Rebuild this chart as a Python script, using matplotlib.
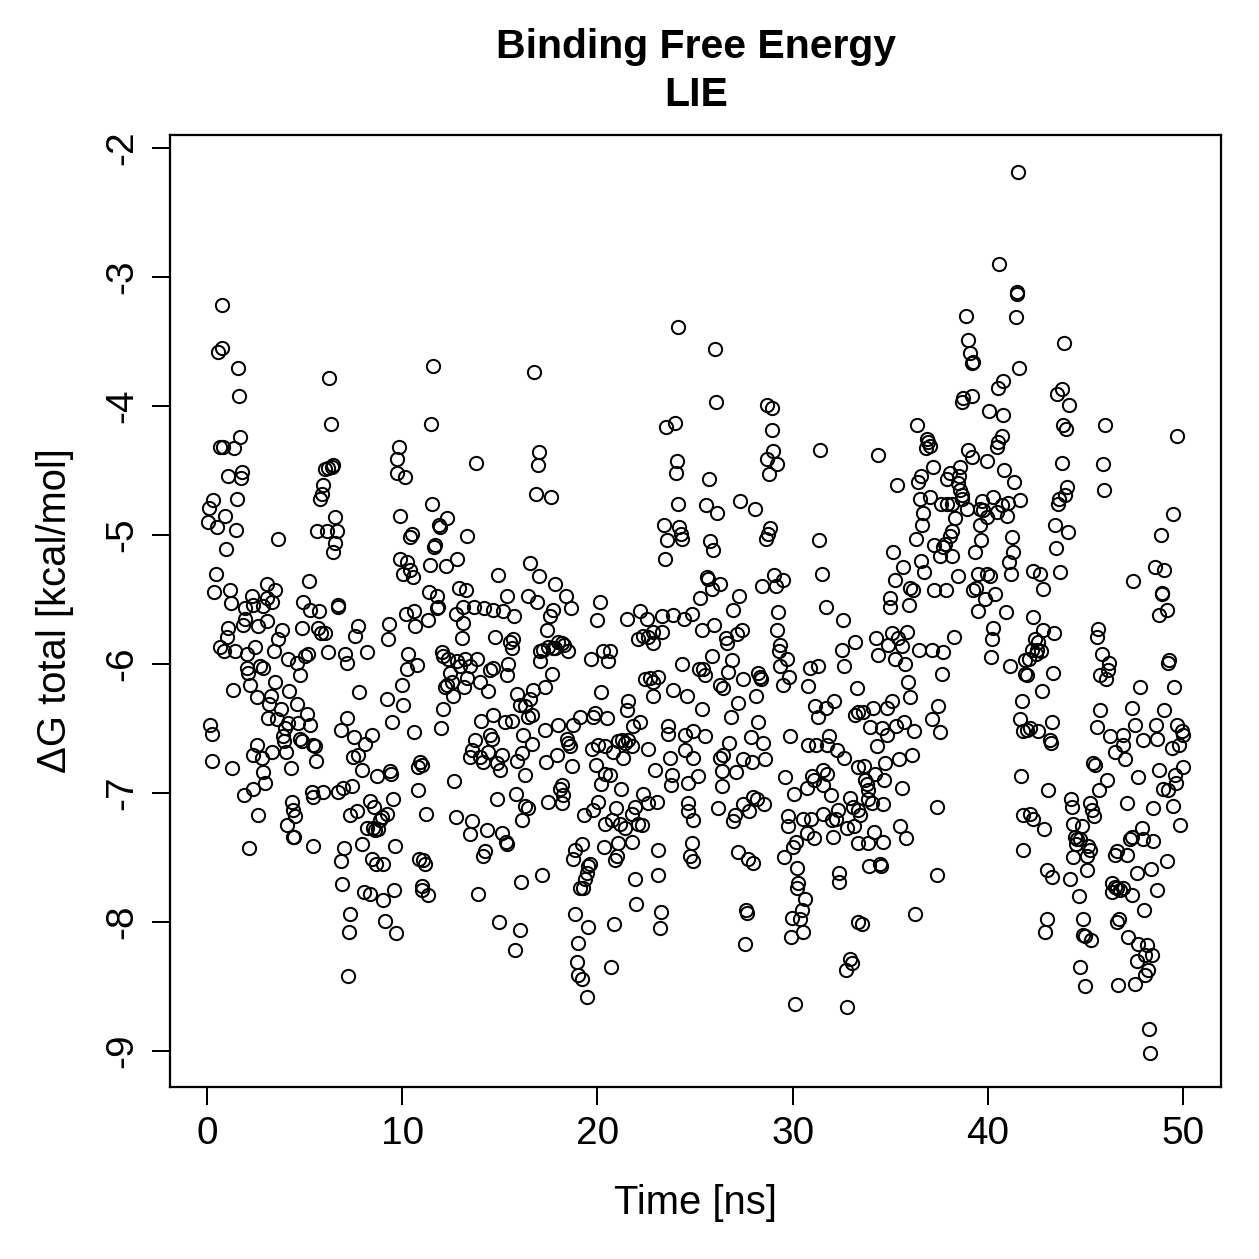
import matplotlib
matplotlib.use('Agg')
import matplotlib.pyplot as plt

plt.rcParams['font.family'] = ['Liberation Sans', 'DejaVu Sans']

# Tiempo [ns] y energía libre de unión [kcal/mol], leídos punto a punto
time_ns = [
    0.78, 0.75, 0.58, 1.57, 1.64, 1.69, 0.67, 0.84, 1.40, 1.78, 1.74, 1.09, 1.52, 0.32, 0.10, 0.92,
    0.07, 0.50, 1.47, 0.96, 3.62, 6.27, 6.35, 6.05, 6.22, 6.39, 6.47, 5.96, 5.88, 5.76, 6.53, 5.62,
    6.16, 6.65, 6.56, 6.47, 0.44, 5.23, 3.06,
    0.38, 1.18, 2.29, 3.06, 3.31, 3.48, 1.23, 1.95, 2.37, 2.89, 4.94, 5.28, 5.74, 6.69, 6.73, 1.09,
    1.01, 1.95, 1.86, 2.63, 3.06, 3.83, 3.65, 4.85, 5.67, 5.84, 6.05, 7.58, 7.75, 0.67, 0.89, 1.43,
    2.03, 2.46, 3.43, 4.13, 4.59, 5.02, 5.16, 6.18, 7.07, 7.19, 2.03, 2.12, 2.72, 2.89, 4.76, 3.48,
    2.20, 1.32, 4.22, 2.54, 3.28, 3.18, 3.79, 4.63, 7.78, 0.15, 0.27, 3.11, 3.57, 4.00, 4.17, 4.68,
    5.11, 5.28, 7.16, 6.87, 7.55, 3.91, 3.96, 4.76, 4.85, 5.45, 5.53, 2.54, 2.37, 2.80, 3.35, 4.03,
    0.24, 1.30, 4.29, 5.57, 7.50, 7.75, 7.92, 2.84, 2.97, 2.37, 1.90, 5.36, 5.45, 5.93, 6.73, 6.98,
    7.45, 4.34, 4.42, 4.51, 2.63, 4.08, 4.39, 4.46, 7.33, 7.67, 2.17, 5.41, 7.02, 6.85, 7.92, 6.93,
    8.05, 7.31, 7.27, 7.22,
    11.60, 11.48, 9.85, 9.72, 9.75, 10.14, 13.78, 11.51, 9.89, 11.94, 11.90, 12.28, 10.49, 10.40,
    11.68, 11.63, 13.30, 9.89, 10.23, 10.40, 10.02, 10.54, 11.42, 12.23, 12.82, 14.92, 11.37, 11.77,
    12.93, 13.27, 15.35, 16.45,
    11.80, 11.85, 10.18, 10.60, 10.66, 11.34, 12.76, 13.10, 13.70, 14.19, 14.67, 15.18, 15.73, 13.13,
    9.34, 9.29, 13.05, 14.75, 15.52, 15.69, 15.61, 8.21, 10.31, 10.74, 10.23, 12.02, 12.11, 12.36,
    12.79, 13.22, 13.82, 13.47, 12.45, 12.19, 12.28, 12.53, 12.62, 12.96, 13.30, 13.18, 13.99, 14.38,
    14.50, 14.67, 15.44, 15.39, 9.97, 10.06, 9.20, 9.46, 10.62, 12.11, 11.99, 15.86, 16.03, 16.29,
    16.46, 14.02, 14.67, 15.27, 15.61, 8.47, 8.09, 13.73, 14.50, 14.58, 13.56, 13.47, 13.99, 14.16,
    14.41, 15.10, 14.84, 15.01, 16.20, 16.12, 15.90, 16.29, 8.69, 9.37, 9.41, 10.91, 11.00, 10.83,
    12.67, 10.79, 8.35, 8.55, 9.55, 8.95, 8.86, 9.20, 8.18, 8.52, 8.78, 8.61, 11.22, 12.76, 13.56,
    13.47, 14.33, 15.10, 15.30, 15.35, 14.24, 14.16, 14.84, 15.83, 16.29, 16.15, 9.63, 8.44, 8.66,
    9.00, 10.88, 11.08, 11.17, 8.35, 9.03, 9.58, 11.00, 11.00, 11.30, 13.87, 16.09, 9.12, 9.67,
    14.98, 16.03, 15.78,
    24.14, 16.77, 23.50, 23.97, 17.01, 16.94, 24.06, 24.01, 16.84, 17.62, 24.11, 23.43, 24.18, 24.28,
    24.35, 23.58, 23.46, 16.55, 17.01, 17.83, 18.37,
    16.89, 17.74, 17.57, 18.63, 20.13, 19.96, 17.40, 21.50, 22.18, 22.52, 23.29, 23.89, 24.45, 24.83,
    17.06, 17.23, 17.49, 17.83, 18.00, 18.17, 18.30, 18.48, 17.06, 17.74, 19.67, 20.30, 20.64, 20.56,
    22.10, 22.35, 22.61, 22.86, 22.86, 23.29, 24.32, 17.66, 17.32, 16.72, 16.55, 16.63, 20.18, 22.44,
    22.69, 22.86, 23.12, 22.86, 23.85, 24.57, 21.58, 21.50, 19.11, 18.77, 18.00, 17.31, 19.88, 19.79,
    20.47, 21.84, 22.18, 23.63, 23.63, 24.49, 24.91, 16.63, 18.42, 18.51, 18.60, 19.71, 20.05, 20.39,
    20.82, 21.07, 21.24, 21.41, 21.58, 21.75, 21.33, 22.57, 23.72, 24.49, 24.91, 17.91, 17.35, 18.68,
    19.91, 20.39, 20.64, 20.18, 22.95, 23.80, 23.77, 24.62, 18.17, 18.08, 18.25, 18.17, 17.49, 16.46,
    20.05, 19.79, 19.33, 20.39, 20.76, 20.95, 21.21, 21.16, 21.41, 21.75, 21.93, 22.10, 22.27, 22.35,
    22.61, 23.04, 24.66, 24.66, 24.91, 19.19, 18.85, 18.77, 20.34, 21.07, 20.99, 20.90, 21.75, 23.12,
    24.83, 24.74, 24.91, 19.62, 19.53, 19.45, 19.36, 19.11, 19.28, 17.14, 21.93, 23.12, 18.85, 19.53,
    20.87, 21.98, 23.26, 23.21, 19.02, 18.94, 19.02, 19.23, 20.70, 19.45,
    26.02, 26.07, 28.70, 28.97, 28.92, 29.01, 28.67, 29.18, 28.80, 31.40, 25.71, 25.56, 26.11, 27.30,
    28.07, 28.84, 28.75, 28.63, 25.76, 25.90, 31.37, 31.49, 25.59, 25.68, 25.85, 26.28, 28.41, 29.04,
    29.15, 29.49, 25.25, 27.27,
    26.93, 29.27, 31.71, 32.56, 25.37, 25.97, 26.58, 26.65, 27.13, 27.39, 29.21, 29.38, 29.32, 29.69,
    29.35, 32.51, 33.19, 25.85, 26.87, 25.20, 25.42, 25.51, 26.70, 27.47, 28.24, 28.33, 28.36, 29.83,
    29.49, 30.89, 31.31, 30.80, 32.63, 33.28, 26.28, 26.45, 25.34, 26.82, 27.22, 28.12, 28.24, 31.14,
    31.31, 31.71, 32.12, 33.19, 33.36, 25.51, 26.76, 27.87, 28.46, 29.86, 30.80, 31.19, 31.74, 31.88,
    32.25, 32.63, 33.36, 25.17, 26.28, 26.41, 26.36, 27.10, 27.47, 27.90, 28.58, 26.40, 29.61, 30.07,
    30.72, 30.97, 31.09, 31.54, 31.74, 31.54, 31.95, 26.19, 26.96, 27.05, 27.47, 27.78, 27.98, 28.16,
    28.53, 29.74, 29.74, 30.55, 30.92, 31.57, 32.00, 32.05, 32.22, 32.34, 32.77, 32.94, 33.11, 33.14,
    33.36, 33.36, 27.18, 27.73, 27.98, 29.56, 30.03, 30.17, 30.72, 31.11, 30.20, 30.29, 30.24, 30.63,
    30.46, 29.95, 30.38, 30.55, 29.91, 32.39, 32.39, 33.36, 27.61, 27.68, 27.56, 32.94, 33.02, 32.73,
    30.12, 32.80,
    41.57, 40.59, 41.48, 41.52, 38.87, 41.43, 39.01, 39.09, 39.18, 39.26, 41.60, 40.54, 40.76, 38.70,
    38.75, 39.18, 40.06, 40.80, 36.36, 36.87, 36.96, 37.04, 36.84, 40.71, 40.54, 40.46, 34.40, 38.97,
    39.21, 39.98, 37.21, 36.58, 36.41, 35.33, 38.58, 38.07, 37.90, 38.54, 38.49, 40.85, 41.36, 41.65,
    36.53, 37.04, 37.61, 37.90, 38.15, 38.58, 38.66, 38.66, 38.92, 39.60, 39.69, 39.77, 39.95, 40.29,
    40.46, 40.71, 40.97, 41.06, 36.70, 36.65, 38.32, 39.60, 36.31, 37.26, 37.73, 37.55, 37.81, 38.07,
    38.15, 38.15, 39.65, 39.35, 41.26, 41.31, 41.09, 41.19, 35.16, 35.68, 35.25, 36.58, 36.75, 36.02,
    36.19, 37.26, 37.84, 38.46, 39.52, 39.95, 40.12, 39.26, 39.38, 40.37, 34.99,
    39.86, 39.48, 40.92, 34.99, 35.97, 34.26, 34.36, 34.91, 35.11, 35.39, 35.59, 35.85, 35.25, 35.76,
    36.48, 37.16, 37.73, 38.27, 37.67, 40.29, 40.20, 40.17, 41.14, 41.91, 41.91, 35.93, 36.02, 33.63,
    34.14, 34.82, 35.08, 33.97, 34.57, 34.82, 35.28, 35.73, 36.24, 37.47, 37.13, 37.55, 41.74, 41.65,
    41.82, 34.31, 33.68, 34.74, 35.45, 36.10, 34.22, 33.71, 33.80, 33.85, 33.88, 34.05, 34.65, 34.70,
    35.59, 37.42, 41.70, 33.46, 34.19, 35.51, 35.80, 34.65, 33.88, 33.92, 34.48, 34.53, 37.38, 41.82,
    41.82, 36.27, 33.54,
    43.92, 43.78, 43.53, 44.18, 43.87, 44.01, 46.00, 49.71, 43.82, 45.88, 44.04, 43.96, 43.67, 43.61,
    45.97, 49.50, 43.44, 44.13, 43.49, 48.86, 42.33, 42.67, 43.70, 42.81, 47.46, 48.57, 49.03, 48.91,
    48.95,
    49.16, 48.79, 42.30, 42.85, 43.39, 42.42, 42.59, 42.25, 42.50, 42.71, 42.13, 42.47, 42.03, 43.36,
    42.76, 45.66, 45.58, 45.83, 46.23, 46.18, 45.75, 46.06, 49.30, 49.25, 47.80, 49.54, 41.99, 42.16,
    42.59, 43.27, 43.19, 43.22, 45.75, 45.61, 46.26, 46.94, 46.91, 46.52, 47.03, 47.37, 47.54, 47.97,
    48.62, 48.69, 49.03, 49.71, 49.93, 49.98, 49.81, 49.42, 43.10, 45.41, 45.49, 46.12, 45.71, 47.71,
    48.79, 49.59, 50.02, 49.64, 48.99, 49.25, 47.11, 48.48, 49.47, 44.25, 44.30, 45.24, 45.32, 45.44,
    42.16, 42.30, 42.90, 49.85, 44.35, 44.81, 44.47, 44.59, 44.72, 44.52, 45.15, 45.24, 45.07, 44.38,
    45.07, 43.02, 43.31, 44.21, 44.69, 46.60, 46.52, 47.15, 47.29, 47.37, 47.93, 48.48, 47.88, 49.20,
    48.34, 47.63, 48.65, 46.35, 46.52, 46.77, 46.94, 47.37, 46.35, 46.64, 48.00, 43.05, 42.93, 44.86,
    44.89, 44.98, 45.27, 46.74, 46.64, 47.20, 47.71, 48.14, 48.40, 48.05, 47.63, 48.19, 48.05, 47.54,
    46.69, 44.72, 44.99, 48.28, 48.31,
]

delta_g = [
    -3.22, -3.55, -3.58, -3.71, -3.92, -4.24, -4.32, -4.32, -4.33, -4.51, -4.56, -4.54, -4.72, -4.73,
    -4.79, -4.85, -4.90, -4.94, -4.96, -5.11, -5.03, -3.78, -4.14, -4.49, -4.48, -4.47, -4.46, -4.61,
    -4.68, -4.72, -4.86, -4.97, -4.97, -4.97, -5.06, -5.13, -5.30, -5.36, -5.38,
    -5.44, -5.43, -5.47, -5.49, -5.52, -5.43, -5.53, -5.57, -5.54, -5.55, -5.52, -5.58, -5.59, -5.54,
    -5.56, -5.72, -5.79, -5.65, -5.70, -5.71, -5.67, -5.74, -5.81, -5.72, -5.72, -5.76, -5.76, -5.78,
    -5.71, -5.87, -5.90, -5.90, -5.92, -5.87, -5.90, -5.96, -5.99, -5.94, -5.92, -5.91, -5.92, -5.99,
    -6.03, -6.07, -6.02, -6.03, -6.09, -6.14, -6.16, -6.20, -6.21, -6.26, -6.25, -6.31, -6.35, -6.31,
    -6.22, -6.47, -6.54, -6.42, -6.43, -6.50, -6.46, -6.46, -6.39, -6.47, -6.42, -6.51, -6.57, -6.56,
    -6.60, -6.58, -6.60, -6.63, -6.64, -6.63, -6.71, -6.73, -6.68, -6.68, -6.75, -6.81, -6.81, -6.75,
    -6.72, -6.71, -6.82, -6.84, -6.92, -6.97, -7.02, -6.99, -7.03, -6.99, -6.99, -6.96, -6.95, -7.07,
    -7.13, -7.18, -7.17, -7.25, -7.34, -7.34, -7.17, -7.14, -7.43, -7.41, -7.43, -7.53, -7.40, -7.71,
    -7.77, -7.94, -8.08, -8.42,
    -3.69, -4.14, -4.32, -4.41, -4.52, -4.55, -4.44, -4.76, -4.85, -4.94, -4.92, -4.87, -4.99, -5.02,
    -5.08, -5.09, -5.01, -5.19, -5.21, -5.27, -5.30, -5.33, -5.23, -5.24, -5.19, -5.31, -5.44, -5.47,
    -5.41, -5.43, -5.47, -5.47,
    -5.57, -5.56, -5.61, -5.59, -5.71, -5.66, -5.61, -5.56, -5.56, -5.57, -5.58, -5.59, -5.63, -5.68,
    -5.69, -5.81, -5.80, -5.79, -5.83, -5.81, -5.88, -5.91, -5.92, -6.01, -6.04, -5.91, -5.94, -5.96,
    -5.98, -5.96, -5.96, -6.02, -6.07, -6.18, -6.16, -6.14, -6.25, -6.02, -6.11, -6.18, -6.14, -6.21,
    -6.05, -6.03, -6.00, -6.09, -6.16, -6.32, -6.27, -6.45, -6.53, -6.35, -6.50, -6.23, -6.32, -6.33,
    -6.41, -6.44, -6.40, -6.45, -6.44, -6.55, -6.62, -6.59, -6.55, -6.58, -6.67, -6.72, -6.72, -6.76,
    -6.68, -6.71, -6.77, -6.82, -6.55, -6.69, -6.75, -6.86, -6.87, -6.83, -6.85, -6.76, -6.78, -6.80,
    -6.91, -6.98, -7.06, -7.11, -7.05, -7.19, -7.21, -7.16, -7.27, -7.27, -7.28, -7.29, -7.16, -7.19,
    -7.22, -7.32, -7.29, -7.31, -7.38, -7.40, -7.45, -7.49, -7.05, -7.01, -7.10, -7.21, -7.41, -7.51,
    -7.55, -7.55, -7.51, -7.52, -7.55, -7.78, -7.83, -7.75, -7.72, -7.75, -7.79, -7.78, -7.69, -7.99,
    -8.09, -8.00, -8.06, -8.22,
    -3.39, -3.74, -4.16, -4.13, -4.36, -4.46, -4.43, -4.52, -4.68, -4.71, -4.76, -4.92, -4.94, -4.99,
    -5.03, -5.04, -5.19, -5.22, -5.32, -5.38, -5.47,
    -5.52, -5.58, -5.63, -5.57, -5.52, -5.66, -5.74, -5.65, -5.59, -5.65, -5.63, -5.62, -5.65, -5.61,
    -5.90, -5.89, -5.87, -5.88, -5.83, -5.84, -5.85, -5.90, -5.98, -5.88, -5.96, -5.90, -5.90, -5.98,
    -5.81, -5.78, -5.79, -5.75, -5.84, -5.75, -6.00, -6.08, -6.18, -6.20, -6.27, -6.40, -6.22, -6.12,
    -6.11, -6.14, -6.10, -6.25, -6.20, -6.25, -6.29, -6.36, -6.41, -6.47, -6.47, -6.51, -6.38, -6.41,
    -6.42, -6.48, -6.45, -6.48, -6.54, -6.55, -6.52, -6.62, -6.58, -6.61, -6.64, -6.66, -6.63, -6.64,
    -6.68, -6.60, -6.59, -6.61, -6.59, -6.64, -6.73, -6.66, -6.73, -6.67, -6.73, -6.71, -6.76, -6.79,
    -6.78, -6.85, -6.86, -6.93, -6.82, -6.86, -6.94, -6.92, -6.94, -6.97, -7.02, -7.08, -7.07, -7.12,
    -7.07, -7.13, -7.17, -7.24, -7.21, -7.12, -6.97, -7.24, -7.27, -7.16, -7.11, -7.24, -7.25, -7.01,
    -7.08, -7.07, -7.08, -7.14, -7.21, -7.40, -7.44, -7.51, -7.42, -7.39, -7.49, -7.52, -7.38, -7.44,
    -7.39, -7.49, -7.53, -7.55, -7.57, -7.62, -7.67, -7.74, -7.74, -7.64, -7.67, -7.64, -7.94, -8.04,
    -8.02, -7.86, -7.92, -8.05, -8.16, -8.31, -8.41, -8.44, -8.35, -8.58,
    -3.56, -3.97, -3.99, -4.02, -4.19, -4.35, -4.41, -4.45, -4.53, -4.34, -4.57, -4.77, -4.83, -4.74,
    -4.80, -4.95, -4.99, -5.03, -5.05, -5.12, -5.04, -5.30, -5.33, -5.34, -5.42, -5.38, -5.40, -5.31,
    -5.40, -5.35, -5.49, -5.47,
    -5.58, -5.60, -5.56, -5.66, -5.74, -5.70, -5.80, -5.84, -5.77, -5.74, -5.74, -5.85, -5.90, -5.96,
    -6.02, -5.89, -5.83, -5.94, -5.97, -6.04, -6.04, -6.09, -6.06, -6.12, -6.07, -6.10, -6.12, -6.10,
    -6.16, -6.03, -6.02, -6.17, -6.02, -6.19, -6.16, -6.19, -6.35, -6.41, -6.30, -6.25, -6.45, -6.33,
    -6.41, -6.34, -6.29, -6.40, -6.37, -6.56, -6.61, -6.57, -6.61, -6.56, -6.63, -6.63, -6.63, -6.56,
    -6.67, -6.73, -6.80, -6.87, -6.73, -6.71, -6.83, -6.84, -6.74, -6.76, -6.74, -6.95, -6.88, -7.01,
    -6.96, -6.87, -6.90, -6.82, -6.85, -6.94, -7.02, -7.12, -7.22, -7.17, -7.09, -7.14, -7.03, -7.05,
    -7.09, -7.18, -7.26, -7.20, -7.20, -7.16, -7.21, -7.34, -7.20, -7.13, -7.27, -7.04, -7.11, -7.26,
    -7.13, -7.39, -7.46, -7.51, -7.54, -7.50, -7.42, -7.38, -7.31, -7.35, -7.58, -7.70, -7.74, -7.82,
    -7.91, -7.97, -7.98, -8.08, -8.12, -7.62, -7.69, -8.00, -7.91, -7.93, -8.17, -8.29, -8.32, -8.37,
    -8.64, -8.66,
    -2.19, -2.90, -3.13, -3.12, -3.30, -3.31, -3.49, -3.59, -3.67, -3.66, -3.71, -3.86, -3.81, -3.97,
    -3.94, -3.92, -4.04, -4.07, -4.15, -4.26, -4.28, -4.31, -4.33, -4.23, -4.28, -4.32, -4.38, -4.34,
    -4.40, -4.43, -4.47, -4.54, -4.59, -4.61, -4.47, -4.52, -4.57, -4.54, -4.60, -4.50, -4.59, -4.73,
    -4.72, -4.71, -4.76, -4.76, -4.76, -4.65, -4.69, -4.72, -4.80, -4.80, -4.74, -4.81, -4.86, -4.71,
    -4.82, -4.77, -4.85, -4.75, -4.83, -4.92, -4.87, -4.92, -5.03, -5.08, -5.09, -5.16, -5.07, -5.01,
    -4.97, -5.16, -5.04, -5.13, -5.02, -5.13, -5.21, -5.30, -5.13, -5.25, -5.35, -5.20, -5.29, -5.41,
    -5.43, -5.43, -5.43, -5.32, -5.30, -5.30, -5.32, -5.43, -5.41, -5.46, -5.49,
    -5.50, -5.59, -5.60, -5.56, -5.54, -5.80, -5.93, -5.85, -5.76, -5.80, -5.86, -5.75, -5.96, -6.00,
    -5.89, -5.89, -5.91, -5.79, -6.08, -5.72, -5.81, -5.95, -6.02, -6.08, -5.97, -6.14, -6.26, -6.37,
    -6.34, -6.34, -6.29, -6.49, -6.50, -6.55, -6.48, -6.45, -6.52, -6.33, -6.43, -6.53, -6.29, -6.43,
    -6.52, -6.64, -6.79, -6.77, -6.74, -6.71, -6.85, -6.90, -6.93, -6.98, -7.05, -7.08, -7.09, -6.90,
    -6.96, -7.11, -6.87, -7.17, -7.30, -7.26, -7.35, -7.38, -7.39, -7.57, -7.55, -7.57, -7.64, -7.17,
    -7.44, -7.94, -8.02,
    -3.51, -3.87, -3.91, -3.99, -4.15, -4.18, -4.15, -4.23, -4.44, -4.45, -4.63, -4.69, -4.72, -4.76,
    -4.65, -4.84, -4.92, -4.98, -5.10, -5.00, -5.28, -5.30, -5.29, -5.42, -5.36, -5.25, -5.27, -5.45,
    -5.46,
    -5.58, -5.62, -5.64, -5.74, -5.76, -5.81, -5.83, -5.89, -5.89, -5.90, -5.96, -5.92, -6.09, -6.07,
    -6.21, -5.73, -5.79, -5.92, -5.99, -6.05, -6.09, -6.12, -5.97, -5.99, -6.18, -6.18, -6.51, -6.50,
    -6.52, -6.45, -6.59, -6.61, -6.36, -6.49, -6.56, -6.55, -6.63, -6.68, -6.74, -6.34, -6.47, -6.59,
    -6.47, -6.58, -6.36, -6.47, -6.52, -6.55, -6.63, -6.65, -6.98, -6.77, -6.78, -6.90, -6.98, -6.88,
    -6.82, -6.86, -6.80, -6.92, -6.97, -6.98, -7.08, -7.12, -7.10, -7.05, -7.11, -7.08, -7.13, -7.18,
    -7.16, -7.20, -7.28, -7.25, -7.24, -7.26, -7.34, -7.36, -7.36, -7.40, -7.41, -7.44, -7.49, -7.50,
    -7.60, -7.60, -7.65, -7.67, -7.80, -7.45, -7.48, -7.48, -7.36, -7.34, -7.36, -7.37, -7.27, -7.53,
    -7.59, -7.62, -7.75, -7.70, -7.73, -7.75, -7.74, -7.79, -7.77, -7.74, -7.91, -7.98, -8.08, -7.98,
    -8.10, -8.11, -8.14, -7.98, -8.00, -8.12, -8.17, -8.18, -8.26, -8.26, -8.30, -8.37, -8.41, -8.48,
    -8.49, -8.35, -8.50, -8.83, -9.02,
]

x_ticks = [0, 10, 20, 30, 40, 50]
y_ticks = [-2, -3, -4, -5, -6, -7, -8, -9]

W = 1259
fig = plt.figure(figsize=(W / 180, W / 180), dpi=180)
ax = fig.add_axes([170 / W, 1 - 1087 / W, (1221 - 170) / W, (1087 - 135) / W])

ax.plot(time_ns, delta_g, linestyle='none', marker='o', markersize=5.3,
        markerfacecolor='none', markeredgecolor='black', markeredgewidth=0.8)

ax.set_xlim(-1.9, 51.95)
ax.set_ylim(-9.28, -1.90)
ax.set_xticks(x_ticks)
ax.set_yticks(y_ticks)
ax.set_yticklabels([str(v) for v in y_ticks])
ax.tick_params(direction='out', length=7.2, width=0.8, labelsize=15.5, pad=4.5)
ax.tick_params(axis='y', labelrotation=90)
for lab in ax.get_yticklabels():
    lab.set_va('center')
for sp in ax.spines.values():
    sp.set_linewidth(0.9)

ax.set_xlabel('Time [ns]', fontsize=16)
ax.set_ylabel('ΔG total [kcal/mol]', fontsize=16)
ax.xaxis.set_label_coords(0.5, (1087 - 1203) / 952)
ax.xaxis.label.set_va('center')
ax.yaxis.set_label_coords((55 - 170) / 1051, 0.5)
ax.yaxis.label.set_va('center')

fig.text(696 / W, 1 - 47 / W, 'Binding Free Energy', ha='center', va='center',
         fontsize=16.4, fontweight='bold')
fig.text(696 / W, 1 - 95 / W, 'LIE', ha='center', va='center',
         fontsize=16.4, fontweight='bold')

fig.savefig('out.png', dpi=180)
